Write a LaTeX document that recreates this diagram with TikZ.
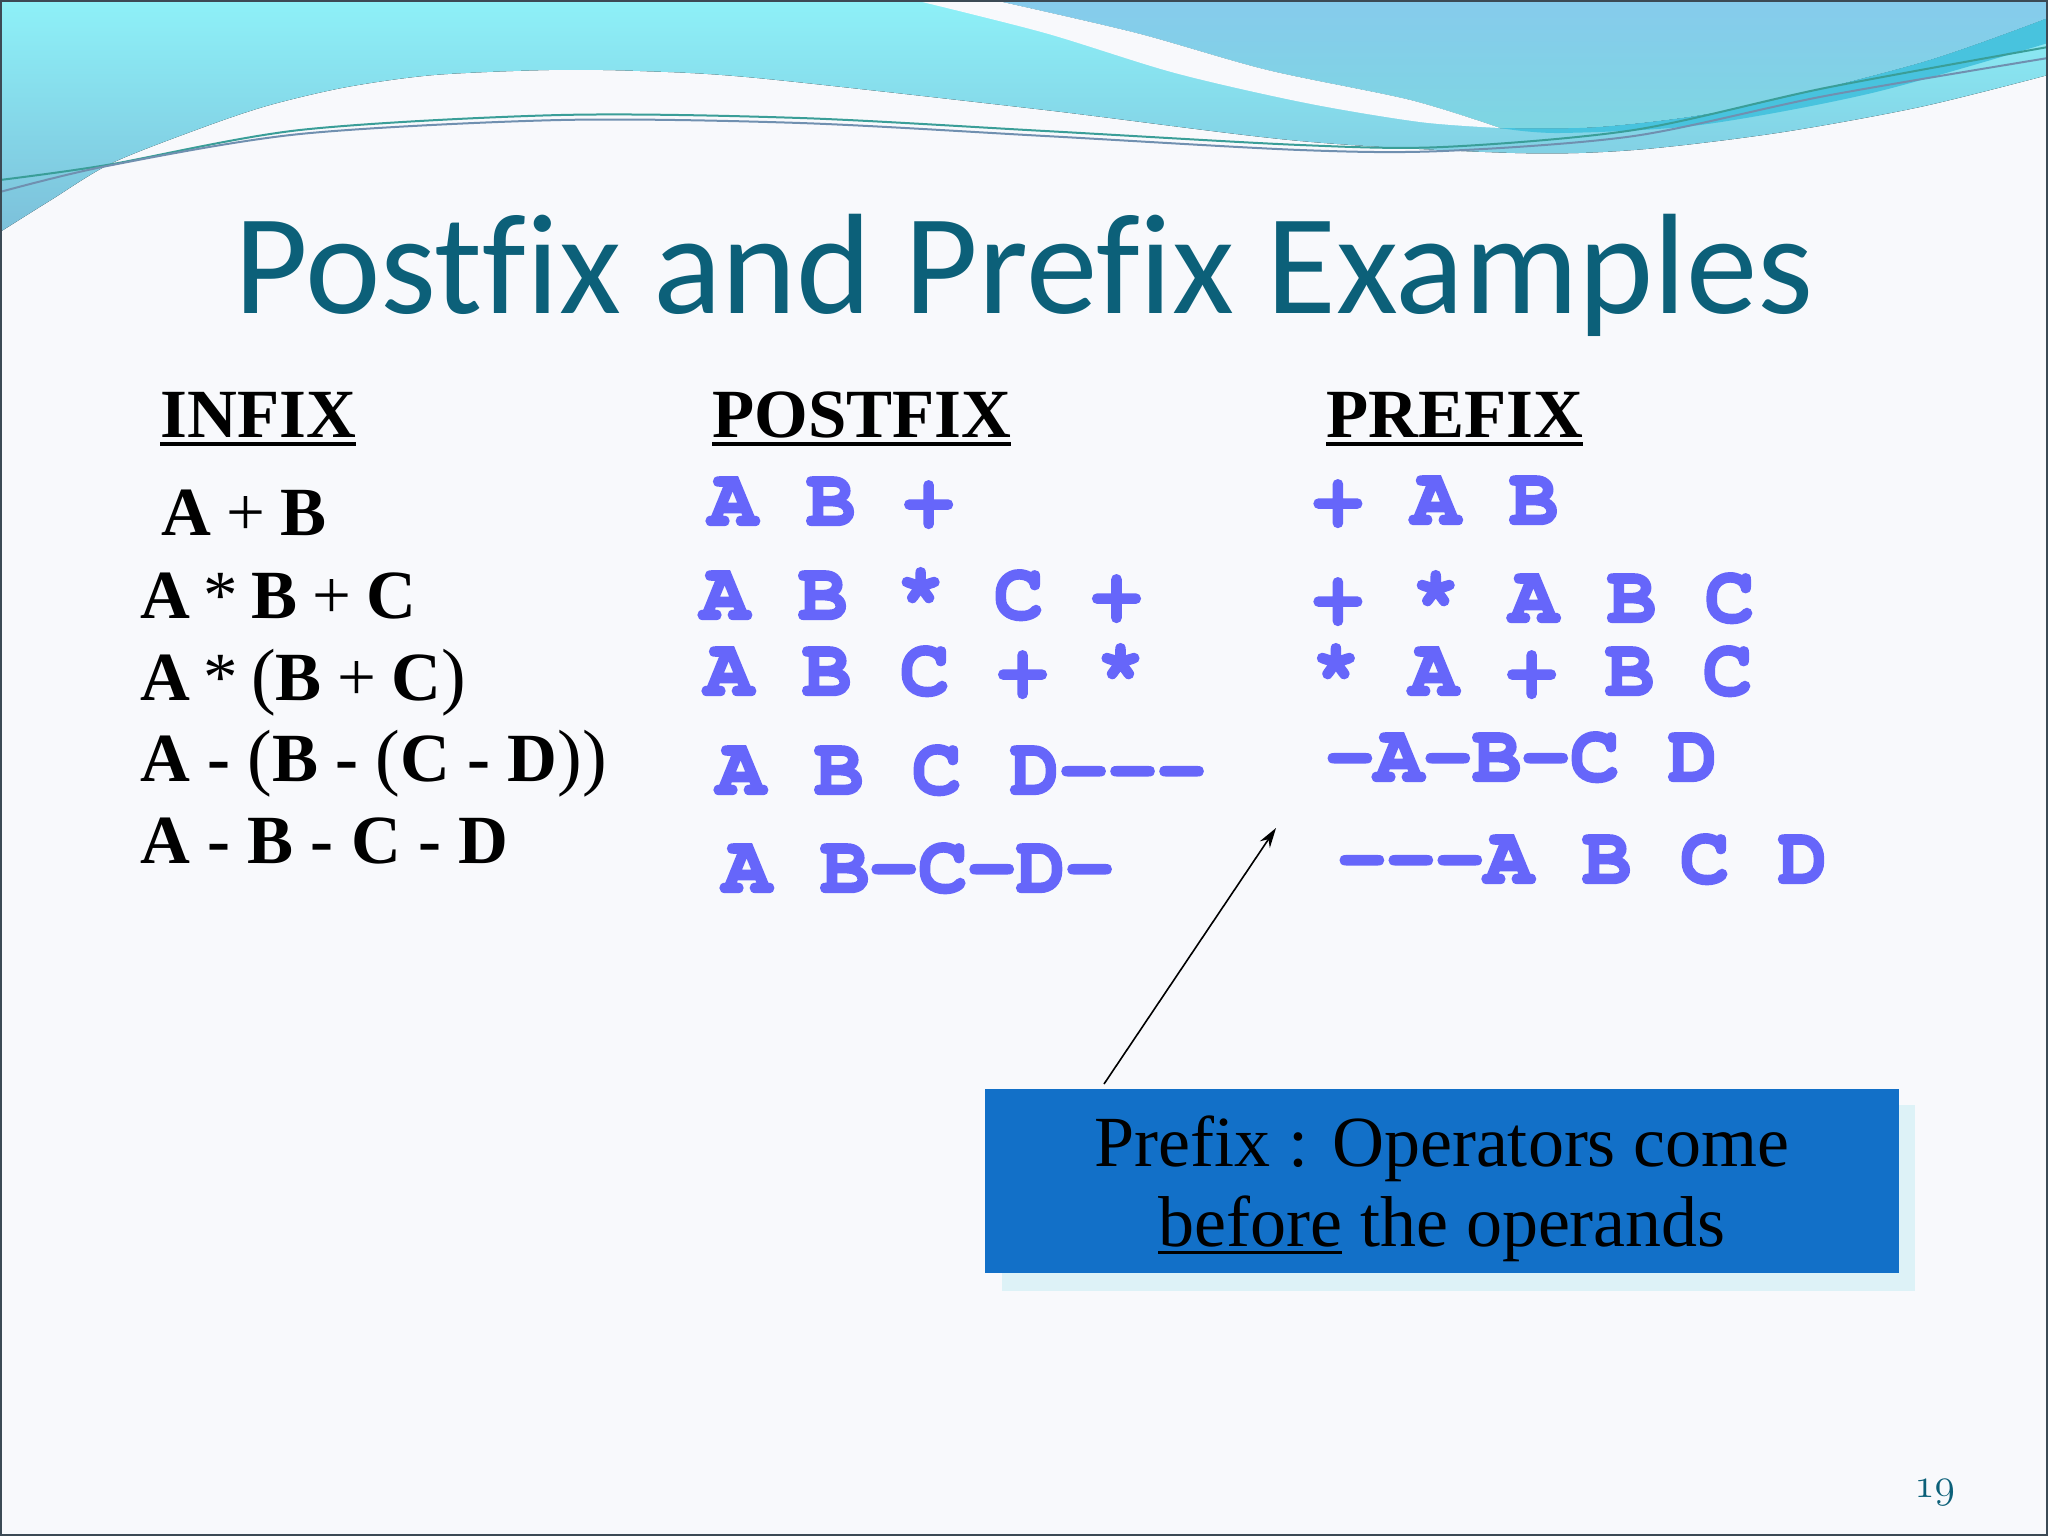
\documentclass[tikz,border=0pt]{standalone}
\usepackage{fontspec}
\setmainfont{Liberation Serif}
\newfontfamily\titlefont[Ligatures=NoCommon]{Carlito}
\IfFontExistsTF{TeX Gyre Cursor}{\newfontfamily\courfont[BoldFeatures={FakeBold=3}]{TeX Gyre Cursor}}{\newfontfamily\courfont{Liberation Mono}}
\usetikzlibrary{arrows.meta}
\definecolor{bgc}{HTML}{F8F9FC}
\definecolor{bandtop}{HTML}{8EF1F8}
\definecolor{bandbot}{HTML}{7CC0DA}
\definecolor{bluetop}{HTML}{86CBEC}
\definecolor{bluebot}{HTML}{7ED6E2}
\definecolor{ribbon}{HTML}{48C3DE}
\definecolor{lineA}{HTML}{3A9E98}
\definecolor{lineB}{HTML}{7090B0}
\definecolor{framec}{HTML}{3C4A55}
\definecolor{titlec}{HTML}{0C6079}
\definecolor{blueop}{HTML}{6666FA}
\definecolor{boxc}{HTML}{1270C8}
\definecolor{shadowc}{HTML}{DDF2F7}
\newcommand{\myul}[3]{\setbox0\hbox{#3}\rlap{\rule[-#1]{\wd0}{#2}}\box0\relax}
\newcommand{\rg}[1]{{\mdseries\kern-1pt #1\kern-1pt}}
\newcommand{\myast}{{\mdseries\kern-2pt *\kern-2pt}}
\newcommand{\bp}[1]{{\mdseries\fontsize{37}{40}\selectfont #1}}
\tikzset{
  infx/.style={anchor=base west, inner sep=0pt, font=\fontsize{34.5}{40}\selectfont\bfseries},
  mono/.style={anchor=base west, inner sep=0pt, text=blueop, font=\fontsize{40.8}{48}\selectfont\courfont\bfseries},
  boxtxt/.style={anchor=base, inner sep=0pt, font=\fontsize{36}{42}\selectfont},
  thinline/.style={line width=1pt},
}
\begin{document}
\begin{tikzpicture}[x=0.5pt,y=-0.5pt]
\useasboundingbox (0,0) rectangle (2048,1536);
% background
\fill[bgc] (0,0) rectangle (2048,1536);
% cyan band
\fill[top color=bandtop, bottom color=bandbot] (0,0) -- (2048,0) -- plot[smooth] coordinates {(2048,75) (1920,107) (1777,133) (1634,150) (1515,153) (1300,141) (1045,110) (757,78) (640,71) (549,70) (434,75) (347,87) (270,105) (204,127) (112,163) (51,200) (0,232)} -- cycle;
% blue region
\fill[top color=bluetop, bottom color=bluebot] (993,0) -- (2048,0) -- plot[smooth] coordinates {(2048,18) (1920,63) (1730,110) (1600,127) (1500,128)} -- plot[smooth] coordinates {(1500,128) (1410,100) (1267,70) (1136,33) (993,0)} -- cycle;
% white stripe
\fill[bgc] plot[smooth] coordinates {(914,0) (1045,33) (1175,73) (1306,103) (1420,122) (1500,128)} -- plot[smooth] coordinates {(1500,128) (1410,100) (1267,70) (1136,33) (993,0)} -- cycle;
% bright ribbon
\fill[ribbon] plot[smooth] coordinates {(1500,128) (1600,127) (1730,110) (1920,63) (2048,18)} -- plot[smooth] coordinates {(2048,43) (1872,93) (1700,125) (1560,133) (1500,128)} -- cycle;
% thin curves
\draw[thinline, lineA] plot[smooth] coordinates {(0,180) (107,165) (300,130) (561,115) (800,118) (1045,131) (1300,145) (1443,147) (1634,130) (1825,88) (2048,47)};
\draw[thinline, lineB] plot[smooth] coordinates {(0,192) (107,166) (300,134) (561,120) (800,123) (1045,136) (1300,150) (1443,151) (1634,136) (1825,96) (2048,58)};
% frame
\draw[framec, line width=1pt] (1,1) rectangle (2047,1535);

% title
\node (title) [anchor=base, inner sep=0pt, text=titlec, font=\titlefont\fontsize{71.5}{84}\selectfont] at (1024,313) {Postfix and Prefix Examples};

% headers
\node (hinfix) [infx] at (160,437) {\myul{4.5pt}{2pt}{INFIX}};
\node (hpostfix) [infx] at (712,437) {\myul{4.5pt}{2pt}{POSTFIX}};
\node (hprefix) [infx] at (1326,437) {\myul{4.5pt}{2pt}{PREFIX}};

% infix
\node (i1) [infx] at (161,535) {A \rg{+} B};
\node (i2) [infx] at (140,618) {A \myast{} B \rg{+} C};
\node (i3) [infx] at (140,700) {A \myast{} \bp{(}B \rg{+} C\bp{)}};
\node (i4) [infx] at (140,781) {A - \bp{(}B - \bp{(}C - D\bp{))}};
\node (i5) [infx] at (140,863) {A - B - C - D};

% postfix
\node (p1) [mono] at (708,525) {A B +};
\node (p2) [mono] at (700,619) {A B * C +};
\node (p3) [mono] at (704,695) {A B C + *};
\node (p4) [mono] at (716,794) {A B C D---};
\node (p5) [mono] at (722,892) {A B-C-D-};

% prefix
\node (q1) [mono] at (1313,524) {+ A B};
\node (q2) [mono] at (1313,622) {+ * A B C};
\node (q3) [mono] at (1311,695) {* A + B C};
\node (q4) [mono] at (1325,781) {-A-B-C D};
\node (q5) [mono] at (1337,883) {---A B C D};

% callout box
\fill[shadowc] (1002,1105) rectangle (1915,1291);
\node (box) [fill=boxc, minimum width=457pt, minimum height=92pt, inner sep=0pt] at (1442,1181) {};
\node (bt1) [boxtxt] at (1442,1166) {Prefix : Operators come};
\node (bt2) [boxtxt] at (1442,1246) {\myul{4pt}{1.5pt}{before} the operands};

% arrow
\coordinate (tail) at (1104,1084);
\coordinate (tip) at (1276,828);
\draw[line width=0.8pt, -{Stealth[length=10pt,width=6pt]}] (tail) -- (tip);

% page number
\node (pnum) [anchor=base west, inner sep=0pt, text=titlec, font=\fontsize{21}{24}\selectfont] at (1914,1497) {{\usefont{OML}{cmm}{m}{it}19}};
\end{tikzpicture}
\end{document}
